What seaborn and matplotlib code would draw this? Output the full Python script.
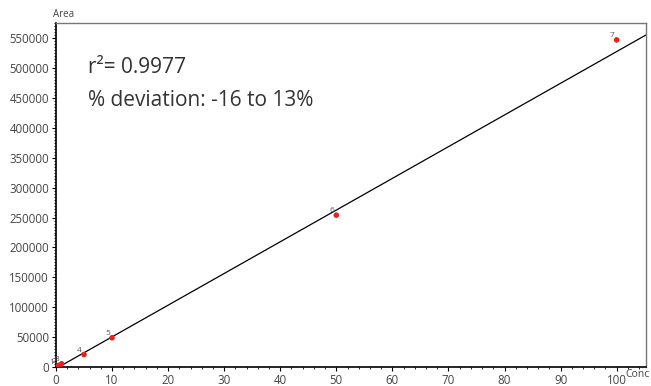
import numpy as np
import pandas as pd
import seaborn as sns
import matplotlib
matplotlib.use("Agg")
import matplotlib.pyplot as plt
from matplotlib.ticker import MultipleLocator

# Data
levels = ["1", "2", "3", "4", "5", "6", "7"]
conc = [0.1, 0.5, 1.0, 5.0, 10.0, 50.0, 100.0]
area = [800, 3000, 5500, 21000, 49000, 254000, 547000]
fit_slope = 5300.0
fit_intercept = -2500.0
r2_text = "r²= 0.9977"
dev_text = "% deviation: -16 to 13%"
x_ticks = [0, 10, 20, 30, 40, 50, 60, 70, 80, 90, 100]
y_ticks = [0, 50000, 100000, 150000, 200000, 250000, 300000, 350000,
           400000, 450000, 500000, 550000]

sns.set_style("white")
plt.rcParams["font.family"] = ["Open Sans", "DejaVu Sans"]

df = pd.DataFrame({"conc": conc, "area": area, "level": levels})

fig = plt.figure(figsize=(6.51, 3.86), dpi=100)
ax = fig.add_axes([0.086, 0.049, 0.906, 0.891])

xmax = 105.2
ymax = 575000
fit_x = np.array([0.0, xmax])
fit_df = pd.DataFrame({"x": fit_x, "y": fit_slope * fit_x + fit_intercept})
sns.lineplot(data=fit_df, x="x", y="y", ax=ax, color="black", linewidth=0.9)
sns.scatterplot(data=df, x="conc", y="area", ax=ax, color="#e8201e",
                s=16, edgecolor="none", zorder=3)

for _, r in df.iterrows():
    ax.annotate(r["level"], (r["conc"], r["area"]), xytext=(-1.5, 0.5),
                textcoords="offset points", ha="right", va="bottom",
                fontsize=6, color="#555555")

ax.set_xlim(0, xmax)
ax.set_ylim(0, ymax)
ax.set_xticks(x_ticks)
ax.set_yticks(y_ticks)
ax.set_xticklabels([str(v) for v in x_ticks])
ax.set_yticklabels([str(v) for v in y_ticks])
ax.xaxis.set_minor_locator(MultipleLocator(2))
ax.yaxis.set_minor_locator(MultipleLocator(5000))
ax.tick_params(axis="both", which="major", direction="out", length=3,
               width=0.8, labelsize=8.3, labelcolor="#444444", color="black",
               pad=2)
ax.tick_params(axis="both", which="minor", direction="out", length=1.5,
               width=0.6, color="black")
ax.tick_params(left=True, bottom=True, which="both")
ax.set_xlabel("")
ax.set_ylabel("")

for s in ["left", "bottom"]:
    ax.spines[s].set_color("black")
    ax.spines[s].set_linewidth(1.2)
for s in ["top", "right"]:
    ax.spines[s].set_color("#777777")
    ax.spines[s].set_linewidth(1.0)

fig.text(0.082, 0.947, "Area", fontsize=7, color="#444444",
         ha="left", va="bottom")
fig.text(625 / 651, 0.043, "Conc", fontsize=7.5, color="#444444",
         ha="left", va="top")
ax.text(0.054, 0.87, r2_text, transform=ax.transAxes, fontsize=15,
        color="#333333", ha="left", va="center")
ax.text(0.054, 0.775, dev_text, transform=ax.transAxes, fontsize=15,
        color="#333333", ha="left", va="center")

fig.savefig("out.png", dpi=100)
